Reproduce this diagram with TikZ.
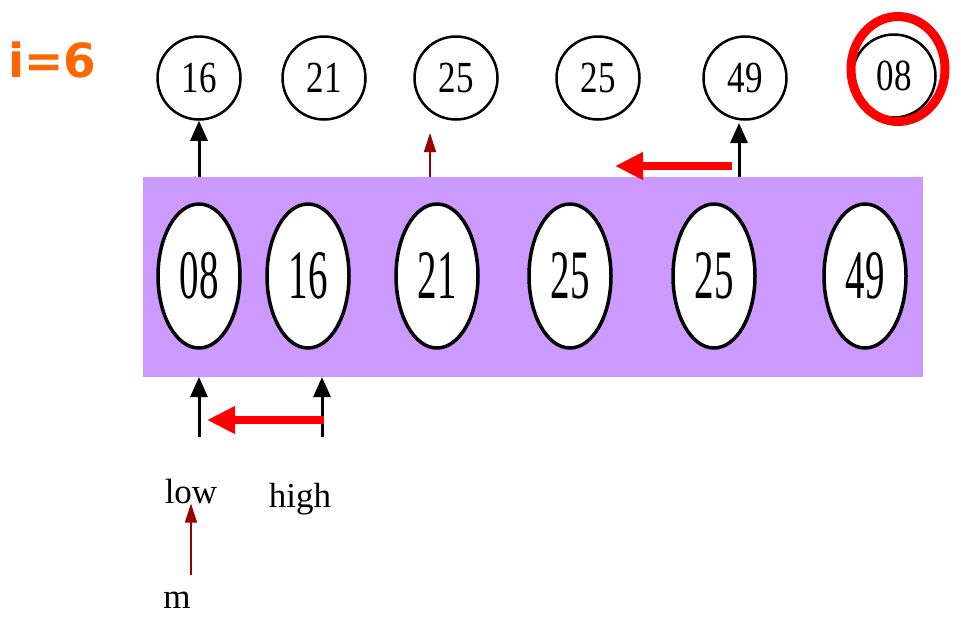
\documentclass[tikz,border=0pt]{standalone}
\usepackage{fontspec}
\setmainfont{Liberation Serif}
\newfontfamily\labfont{DejaVu Sans}
\usepackage{graphicx}
\usetikzlibrary{shapes.geometric,arrows.meta}
\definecolor{lilac}{RGB}{204,153,255}
\definecolor{dkred}{RGB}{153,0,0}
\definecolor{iorange}{RGB}{255,102,0}
\tikzset{
  topc/.style={circle, draw=black, line width=2.5pt, fill=white, minimum size=83pt, inner sep=0pt,
    font=\fontsize{35}{35}\selectfont},
  botc/.style={ellipse, draw=black, line width=3.5pt, fill=white, minimum width=82pt, minimum height=144pt, inner sep=0pt,
    font=\fontsize{39}{39}\selectfont},
  blackarr/.style={line width=3pt, -{Triangle[length=20pt,width=17pt]}},
  thinarr/.style={dkred, line width=1.2pt, -{Triangle[length=19pt,width=12pt]}},
  redarr/.style={red, line width=8pt, -{Triangle[length=28pt,width=26pt]}},
  lab/.style={font=\fontsize{35}{35}\selectfont, inner sep=0pt}
}
\newcommand{\ttxt}[1]{\scalebox{1}[1.27]{#1}}
\newcommand{\btxt}[1]{\scalebox{1}[1.78]{#1}}
\begin{document}
\begin{tikzpicture}[x=1pt,y=-1pt]
\useasboundingbox (0,0) rectangle (961,622);
% title
\node[anchor=base west, inner sep=0pt, text=iorange, font=\labfont\bfseries\fontsize{47}{47}\selectfont] (ilabel) at (8,77) {i=6};
% array background
\node[fill=lilac, minimum width=780pt, minimum height=200pt, inner sep=0pt, anchor=north west] (arr) at (143,177) {};
% bottom ellipses
\node[botc] (b1) at (199,276) {\btxt{08}};
\node[botc] (b2) at (308,276) {\btxt{16}};
\node[botc] (b3) at (437,276) {\btxt{21}};
\node[botc] (b4) at (570,276) {\btxt{25}};
\node[botc] (b5) at (714,276) {\btxt{25}};
\node[botc] (b6) at (865,276) {\btxt{49}};
% top circles
\node[topc] (t1) at (199,78) {\ttxt{16}};
\node[topc] (t2) at (324,78) {\ttxt{21}};
\node[topc] (t3) at (456,78) {\ttxt{25}};
\node[topc] (t4) at (598,78) {\ttxt{25}};
\node[topc] (t5) at (745,78) {\ttxt{49}};
\node[topc] (t6) at (894,76) {\ttxt{08}};
% highlight
\node[ellipse, draw=red, line width=9pt, minimum width=94pt, minimum height=105pt, inner sep=0pt] (hl) at (898,69) {};
% top arrows
\coordinate (ua) at (199,177);
\coordinate (ub) at (430,177);
\coordinate (ubt) at (430,133);
\coordinate (uc) at (739,177);
\coordinate (uct) at (739,123);
\draw[blackarr] (ua) -- (t1.south);
\draw[thinarr] (ub) -- (ubt);
\draw[blackarr] (uc) -- (uct);
\coordinate (ra) at (732,166);
\coordinate (rb) at (615,166);
\draw[redarr] (ra) -- (rb);
% bottom arrows
\coordinate (la) at (199,437);
\coordinate (lat) at (199,377);
\coordinate (ha) at (322,437);
\coordinate (hat) at (322,377);
\draw[blackarr] (la) -- (lat);
\draw[blackarr] (ha) -- (hat);
\coordinate (rc) at (324,420);
\coordinate (rd) at (207,420);
\draw[redarr] (rc) -- (rd);
% labels
\node[lab, anchor=base] (low) at (191,503) {low};
\node[lab, anchor=base] (high) at (300,507) {high};
\node[lab, anchor=base] (m) at (177,608) {m};
\coordinate (mt) at (191,575);
\draw[thinarr] (mt) -- (low.south);
\end{tikzpicture}
\end{document}
